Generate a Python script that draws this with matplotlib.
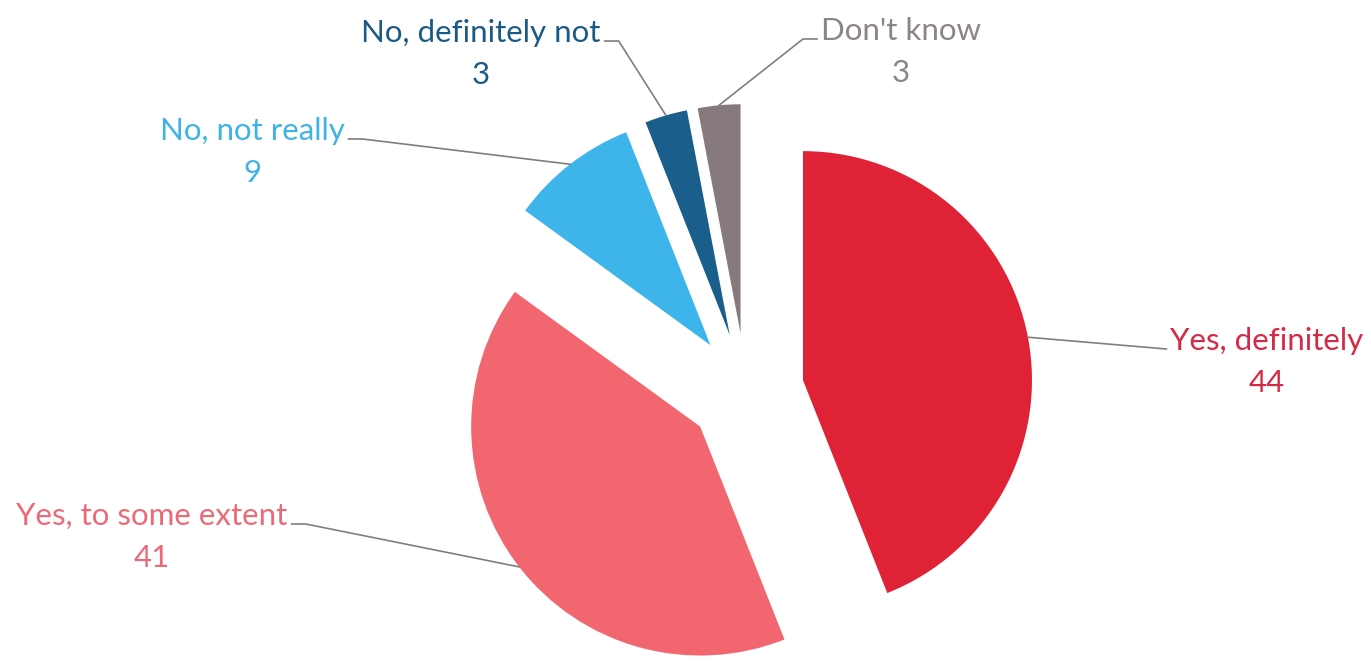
import numpy as np
import matplotlib
matplotlib.use("Agg")
import matplotlib.pyplot as plt

# Data
labels = ["Yes, definitely", "Yes, to some extent", "No, not really",
          "No, definitely not", "Don't know"]
values = [44, 41, 9, 3, 3]

wedge_colors = ["#E02237", "#F26670", "#3DB5EA", "#1A5E8C", "#877A7E"]
text_colors = ["#D42A45", "#EC6A78", "#3FB3E6", "#1C5A86", "#8C8486"]

# Label positions (pixel coords, y up) and side of leader line
label_pos = [(1267, 324), (152, 149), (252, 534), (481, 632), (901, 634)]
label_side = ["left", "right", "right", "right", "left"]

W, H = 1371, 665
center = (746, 274)
radius = 229
explode = 58

plt.rcParams["font.family"] = ["Lato", "DejaVu Sans"]

fig = plt.figure(figsize=(W / 100, H / 100), dpi=100)
ax = fig.add_axes([0, 0, 1, 1])

wedges, _ = ax.pie(
    values,
    colors=wedge_colors,
    startangle=90,
    counterclock=False,
    radius=radius,
    center=center,
    explode=[explode] * len(values),
    wedgeprops={"linewidth": 0},
)

ax.set_xlim(0, W)
ax.set_ylim(0, H)
ax.set_aspect("equal")
ax.axis("off")

renderer = fig.canvas.get_renderer()

for i, w in enumerate(wedges):
    # Point on the outer edge at the wedge's mid angle
    mid = np.deg2rad((w.theta1 + w.theta2) / 2)
    cx, cy = w.center
    px = cx + w.r * np.cos(mid)
    py = cy + w.r * np.sin(mid)

    lx, ly = label_pos[i]
    t = ax.text(lx, ly, labels[i], ha="center", va="center", fontsize=22.5,
                color=text_colors[i])
    ax.text(lx, ly - 42, str(values[i]), ha="center", va="center",
            fontsize=22.5, color=text_colors[i])

    # Leader line: short horizontal piece next to the label, then to wedge
    bb = t.get_window_extent(renderer)
    if label_side[i] == "right":
        x0 = bb.x1 + 4
        x1 = x0 + 14
    else:
        x0 = bb.x0 - 4
        x1 = x0 - 14
    y0 = ly - 8
    if i == 0:
        ax.plot([x0, px], [y0, py], color="#7F7F7F", lw=1.2)
    else:
        ax.plot([x0, x1, px], [y0, y0, py], color="#7F7F7F", lw=1.2)

fig.savefig("out.png", dpi=100)
